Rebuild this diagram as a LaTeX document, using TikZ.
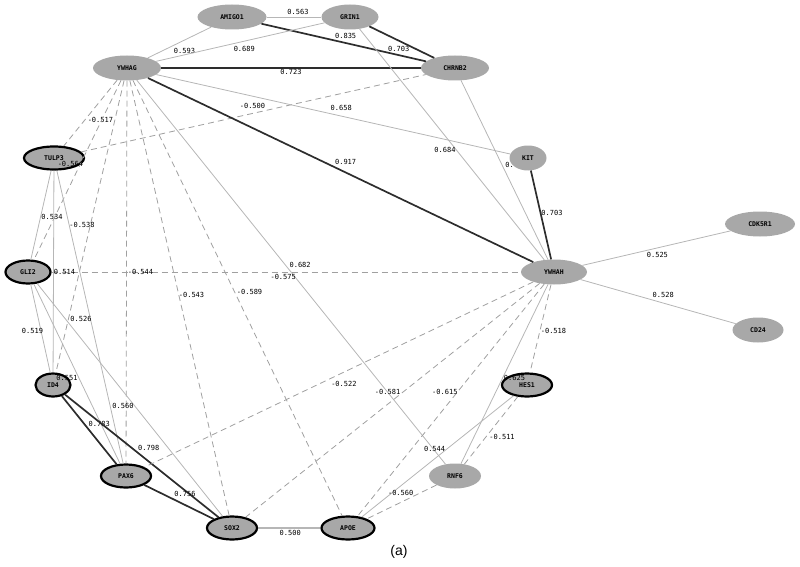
\documentclass[tikz,border=0pt]{standalone}
\usepackage{fontspec}
\setmainfont{Liberation Sans}
\newfontfamily\netmono{DejaVu Sans Mono}
\usetikzlibrary{shapes.geometric}
\definecolor{genegray}{RGB}{168,168,168}
\definecolor{weakgray}{RGB}{182,182,182}
\definecolor{stronggray}{RGB}{45,45,45}
\definecolor{neggray}{RGB}{160,160,160}

\begin{document}
\begin{tikzpicture}[x=1pt,y=-1pt,
	gene/.style={ellipse,fill=genegray,inner sep=0pt,minimum height=25pt,
		font=\netmono\bfseries\fontsize{6.5}{7}\selectfont},
	seed/.style={gene,draw=black,line width=2.2pt,minimum height=23pt},
	weak/.style={draw=weakgray,line width=0.8pt},
	strong/.style={draw=stronggray,line width=1.7pt},
	neg/.style={draw=neggray,line width=0.8pt,dash pattern=on 6pt off 4pt},
	val/.style={font=\netmono\fontsize{7}{8}\selectfont,inner sep=0pt}]
		\useasboundingbox (0,0) rectangle (800,567);
		% genes on the ring
		\node[gene,minimum width=69pt] (AMIGO1) at (232,17) {AMIGO1};
		\node[gene,minimum width=57pt] (GRIN1) at (350,17) {GRIN1};
		\node[gene,minimum width=68pt] (YWHAG) at (127,68) {YWHAG};
		\node[gene,minimum width=68pt] (CHRNB2) at (455,68) {CHRNB2};
		\node[seed,minimum width=60pt] (TULP3) at (54,158) {TULP3};
		\node[gene,minimum width=37pt] (KIT) at (528,158) {KIT};
		\node[seed,minimum width=45pt] (GLI2) at (28,272) {GLI2};
		\node[gene,minimum width=66pt] (YWHAH) at (554,272) {YWHAH};
		\node[seed,minimum width=35pt] (ID4) at (53,385) {ID4};
		\node[seed,minimum width=50pt] (HES1) at (527,385) {HES1};
		\node[seed,minimum width=50pt] (PAX6) at (126,476) {PAX6};
		\node[gene,minimum width=52pt] (RNF6) at (455,476) {RNF6};
		\node[seed,minimum width=50pt] (SOX2) at (232,528) {SOX2};
		\node[seed,minimum width=53pt] (APOE) at (348,528) {APOE};
		% outside the ring
		\node[gene,minimum width=70pt] (CDK5R1) at (760,224) {CDK5R1};
		\node[gene,minimum width=51pt] (CD24) at (758,330) {CD24};

		% top group
		\draw[weak] (AMIGO1) -- node[val,shift={(4,-5)}] {0.563} (GRIN1);
		\draw[strong] (AMIGO1) -- node[val,shift={(2,-7)}] {0.835} (CHRNB2);
		\draw[strong] (GRIN1) -- node[val,shift={(-3,7)}] {0.703} (CHRNB2);
		\draw[weak] (AMIGO1) -- node[val,shift={(5,8)}] {0.593} (YWHAG);
		\draw[weak] (GRIN1) -- node[val,shift={(4,7)}] {0.689} (YWHAG);
		\draw[strong] (YWHAG) -- node[val,shift={(0,4)}] {0.723} (CHRNB2);
		\draw[neg] (TULP3) -- node[val,shift={(-1,-7)}] {-0.500} (CHRNB2);
		\draw[weak] (YWHAG) -- node[val,shift={(8,-6)}] {0.658} (KIT);
		\draw[strong] (YWHAG) -- node[val,shift={(5,-8)}] {0.917} (YWHAH);
		\draw[weak] (GRIN1) -- node[val,shift={(-7,6)}] {0.684} (YWHAH);
		\draw[weak] (CHRNB2) -- node[val,shift={(5,-5)}] {0.} (YWHAH);
		\draw[strong] (KIT) -- node[val,shift={(11,-2)}] {0.703} (YWHAH);
		\draw[weak] (YWHAG) -- node[val,shift={(9,-7)}] {0.682} (RNF6);
		\draw[neg] (GLI2) -- node[val,shift={(-3,5)}] {-0.575} (YWHAH);
		\draw[weak] (YWHAH) -- node[val,shift={(1,7)}] {0.525} (CDK5R1);
		\draw[weak] (YWHAH) -- node[val,shift={(5,-7)}] {0.528} (CD24);

		% left group
		\draw[neg] (YWHAG) -- node[val,shift={(10,7)}] {-0.517} (TULP3);
		\draw[neg] (YWHAG) -- node[val,shift={(-7,-6)}] {-0.564} (GLI2);
		\draw[weak] (TULP3) -- node[val,shift={(11,2)}] {0.534} (GLI2);
		\draw[neg] (YWHAG) -- node[val,shift={(-8,-2)}] {-0.538} (ID4);
		\draw[weak] (TULP3) -- node[val,shift={(11,0)}] {0.514} (ID4);
		\draw[neg] (YWHAG) -- node[val,shift={(14,0)}] {-0.544} (PAX6);
		\draw[neg] (YWHAG) -- node[val,shift={(12,-3)}] {-0.543} (SOX2);
		\draw[neg] (YWHAG) -- node[val,shift={(12,-6)}] {-0.589} (APOE);
		\draw[weak] (GLI2) -- node[val,shift={(-8,2)}] {0.519} (ID4);
		\draw[weak] (TULP3) -- node[val,shift={(-9,2)}] {0.526} (PAX6);
		\draw[weak] (GLI2) -- node[val,shift={(-10,4)}] {0.551} (PAX6);
		\draw[weak] (GLI2) -- node[val,shift={(-7,6)}] {0.560} (SOX2);
		\draw[strong] (ID4) -- node[val,shift={(10,-6)}] {0.783} (PAX6);
		\draw[strong] (ID4) -- node[val,shift={(7,-8)}] {0.798} (SOX2);
		\draw[strong] (PAX6) -- node[val,shift={(6,-8)}] {0.756} (SOX2);
		\draw[weak,line width=1.4pt] (SOX2) -- node[val,shift={(1,5)}] {0.500} (APOE);

		% lower right group
		\draw[neg] (YWHAH) -- node[val,shift={(5,9)}] {-0.522} (PAX6);
		\draw[neg] (YWHAH) -- node[val,shift={(-5,-8)}] {-0.581} (SOX2);
		\draw[neg] (YWHAH) -- node[val,shift={(-6,-8)}] {-0.615} (APOE);
		\draw[neg] (YWHAH) -- node[val,shift={(13,2)}] {-0.518} (HES1);
		\draw[weak] (YWHAH) -- node[val,shift={(10,4)}] {0.625} (RNF6);
		\draw[weak] (HES1) -- node[val,shift={(-3,-7)}] {0.544} (APOE);
		\draw[neg] (RNF6) -- node[val,shift={(11,6)}] {-0.511} (HES1);
		\draw[neg] (RNF6) -- node[val,shift={(-1,-9)}] {-0.560} (APOE);

		\node[font=\fontsize{14}{16}\selectfont] (caption) at (399,552) {(a)};
\end{tikzpicture}
\end{document}
